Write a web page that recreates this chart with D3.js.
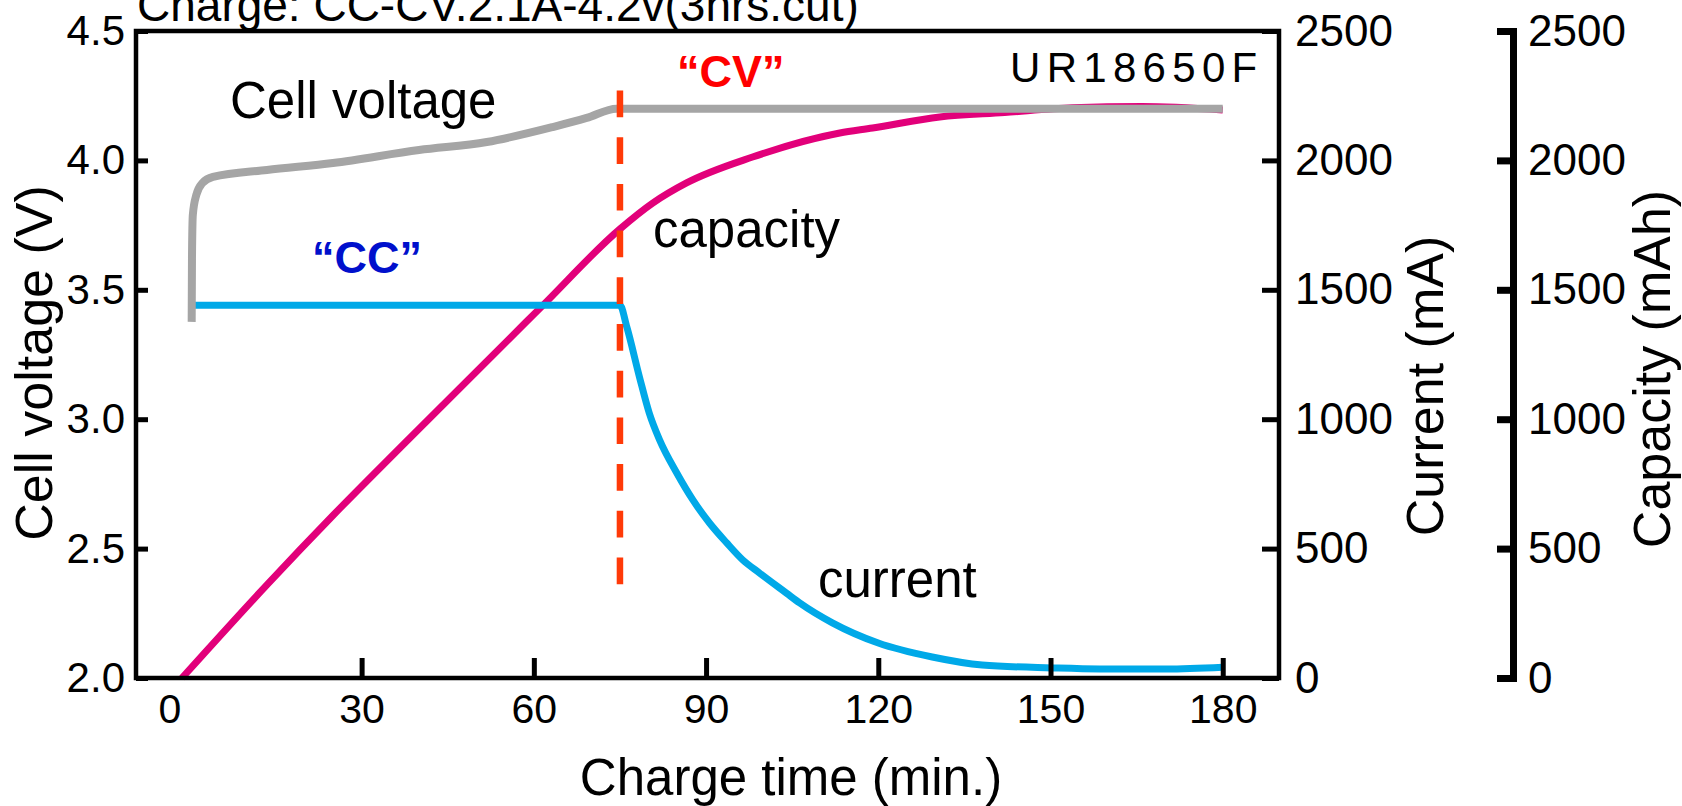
<!DOCTYPE html>
<html>
<head>
<meta charset="utf-8">
<script src="https://cdn.jsdelivr.net/npm/d3@7"></script>
<style>
  html, body { margin: 0; padding: 0; background: #fff; overflow: hidden; }
  text { font-family: "Liberation Sans", Arial, Helvetica, sans-serif; }
</style>
</head>
<body>
<svg id="chart" width="1682" height="806"></svg>
<script>
// ---- tick values ----
const timeTicks = [0, 30, 60, 90, 120, 150, 180];
const voltageTicks = [2.0, 2.5, 3.0, 3.5, 4.0, 4.5];
const currentTicks = [0, 500, 1000, 1500, 2000, 2500];
const capacityTicks = [0, 500, 1000, 1500, 2000, 2500];

// ---- cell voltage (V) vs charge time (min) ----
const voltageTime   = [0.4, 0.45, 0.6, 1.2, 2.3, 4.1, 13.5, 25, 40, 51.8, 63.3, 69.2, 74.4, 180];
const voltageValues = [3.376, 3.62, 3.79, 3.866, 3.913, 3.936, 3.963, 3.99, 4.04, 4.071, 4.129, 4.164, 4.2, 4.2];

// ---- charge current (mA) ----
const currentTime   = [0.1, 75, 76.2, 78.4, 80.1, 81.9, 84.9, 87.7, 90.6, 93.6, 96.4, 99.3, 104, 106.3, 112, 120, 129.4, 138.1, 150.2, 158.6, 170.2, 180];
const currentValues = [1440, 1440, 1356, 1163, 1024, 920, 792, 688, 599, 522, 456, 406, 328, 290, 213, 135, 81, 50, 39, 35, 35, 42];

// ---- charged capacity (mAh) ----
const capacityTime   = [-1.3, 13.5, 25, 36.7, 61.4, 75, 80.7, 86.6, 98.1, 113.3, 119, 130.7, 142, 153.8, 166, 180];
const capacityValues = [0, 360, 628, 890, 1436, 1735, 1835, 1913, 2013, 2106, 2125, 2168, 2185, 2203, 2208, 2195];

// ---- CC -> CV switch marker ----
const cvSwitchTime = 75;
const cvMarkerVolts = [2.36, 4.27];

// ---- layout ----
const svg = d3.select("#chart");
const plot = { left: 136, right: 1279, top: 31, bottom: 678 };
const capAxisX = 1513;

const x  = d3.scaleLinear().domain([-9.3, 189.8]).range([plot.left, plot.right]);
const yV = d3.scaleLinear().domain([2.0, 4.5]).range([plot.bottom, plot.top]);
const yI = d3.scaleLinear().domain([0, 2500]).range([plot.bottom, plot.top]);
const yC = d3.scaleLinear().domain([0, 2500]).range([plot.bottom, plot.top]);

const zip = (a, b) => a.map((d, i) => [d, b[i]]);

// ---- series lines ----
const lineOf = (ys) => d3.line().x(d => x(d[0])).y(d => ys(d[1])).curve(d3.curveMonotoneX);

svg.append("path")
  .datum(zip(capacityTime, capacityValues))
  .attr("d", lineOf(yC))
  .attr("fill", "none").attr("stroke", "#e2007a").attr("stroke-width", 7);

svg.append("path")
  .datum(zip(currentTime, currentValues))
  .attr("d", lineOf(yI))
  .attr("fill", "none").attr("stroke", "#00a9e8").attr("stroke-width", 7);

svg.append("path")
  .datum(zip(voltageTime, voltageValues))
  .attr("d", lineOf(yV))
  .attr("fill", "none").attr("stroke", "#a5a5a5").attr("stroke-width", 8);

// dashed CC/CV boundary
svg.append("line")
  .attr("x1", x(cvSwitchTime)).attr("x2", x(cvSwitchTime))
  .attr("y1", yV(cvMarkerVolts[1])).attr("y2", yV(cvMarkerVolts[0]))
  .attr("stroke", "#ff3a08").attr("stroke-width", 6.5)
  .attr("stroke-dasharray", "26.7 20");

// ---- frame ----
svg.append("rect")
  .attr("x", plot.left).attr("y", plot.top)
  .attr("width", plot.right - plot.left).attr("height", plot.bottom - plot.top)
  .attr("fill", "none").attr("stroke", "#000").attr("stroke-width", 4.5);

function styleAxis(g, size, width) {
  g.select(".domain").remove();
  g.selectAll(".tick line").attr("stroke", "#000").attr("stroke-width", width);
  g.selectAll(".tick text").attr("fill", "#000").attr("font-size", size);
}

// left voltage axis (ticks point inward)
svg.append("g")
  .attr("transform", `translate(${plot.left},0)`)
  .call(d3.axisLeft(yV).tickValues(voltageTicks).tickFormat(d3.format(".1f"))
        .tickSizeInner(-12).tickSizeOuter(0).tickPadding(11))
  .call(g => styleAxis(g, 42, 5));

// right current axis
svg.append("g")
  .attr("transform", `translate(${plot.right},0)`)
  .call(d3.axisRight(yI).tickValues(currentTicks).tickFormat(d3.format("d"))
        .tickSizeInner(-17).tickSizeOuter(0).tickPadding(16))
  .call(g => styleAxis(g, 44, 5));

// bottom time axis
const xAxis = svg.append("g")
  .attr("transform", `translate(0,${plot.bottom})`)
  .call(d3.axisBottom(x).tickValues(timeTicks).tickFormat(d3.format("d"))
        .tickSizeInner(-20).tickSizeOuter(0).tickPadding(16))
  .call(g => styleAxis(g, 41, 5));
xAxis.selectAll(".tick").filter(d => d === 0).select("line").remove();
xAxis.selectAll(".tick").filter(d => d === 0).select("text").attr("dx", -20);

// separate capacity axis
const capAxis = svg.append("g")
  .attr("transform", `translate(${capAxisX},0)`)
  .call(d3.axisRight(yC).tickValues(capacityTicks).tickFormat(d3.format("d"))
        .tickSizeInner(-16).tickSizeOuter(0).tickPadding(15));
capAxis.select(".domain").attr("stroke", "#000").attr("stroke-width", 7).attr("stroke-linecap", "square");
capAxis.selectAll(".tick line").attr("stroke", "#000").attr("stroke-width", 7);
capAxis.selectAll(".tick text").attr("fill", "#000").attr("font-size", 44);

// ---- axis titles ----
svg.append("text")
  .attr("transform", "translate(52,363) rotate(-90)")
  .attr("text-anchor", "middle").attr("font-size", 52)
  .text("Cell voltage (V)");

svg.append("text")
  .attr("transform", "translate(1443,386) rotate(-90)")
  .attr("text-anchor", "middle").attr("font-size", 52)
  .text("Current (mA)");

svg.append("text")
  .attr("transform", "translate(1670,369) rotate(-90)")
  .attr("text-anchor", "middle").attr("font-size", 52)
  .text("Capacity (mAh)");

svg.append("text")
  .attr("x", 791).attr("y", 795)
  .attr("text-anchor", "middle").attr("font-size", 51)
  .text("Charge time (min.)");

svg.append("text")
  .attr("x", 137).attr("y", 21)
  .attr("font-size", 46)
  .text("Charge: CC-CV.2.1A-4.2v(3hrs.cut)");

// ---- in-plot annotations ----
svg.append("text").attr("x", 1010).attr("y", 82)
  .attr("font-size", 42).attr("letter-spacing", 6.3)
  .text("UR18650F");

svg.append("text").attr("x", 230).attr("y", 118)
  .attr("font-size", 51).text("Cell voltage");

svg.append("text").attr("x", 653).attr("y", 247)
  .attr("font-size", 51).text("capacity");

svg.append("text").attr("x", 818).attr("y", 597)
  .attr("font-size", 51).text("current");

svg.append("text").attr("x", 312).attr("y", 273)
  .attr("font-size", 45).attr("font-weight", "bold").attr("fill", "#0010cc")
  .text("\u201CCC\u201D");

svg.append("text").attr("x", 677).attr("y", 87)
  .attr("font-size", 45).attr("font-weight", "bold").attr("fill", "#ff0000")
  .text("\u201CCV\u201D");
</script>
</body>
</html>
